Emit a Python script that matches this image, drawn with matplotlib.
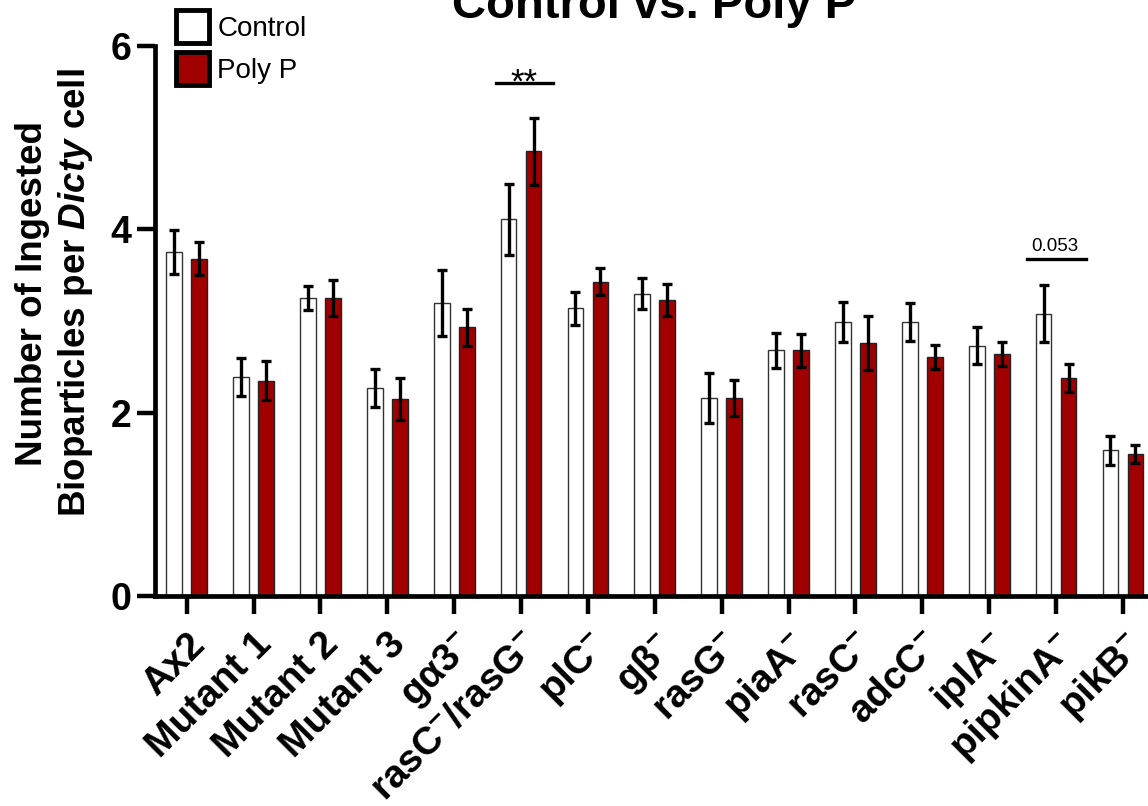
import matplotlib
matplotlib.use('Agg')
import matplotlib.pyplot as plt
from matplotlib.patches import Patch
import numpy as np

plt.rcParams['font.family'] = ['Liberation Sans', 'DejaVu Sans']
plt.rcParams['mathtext.fontset'] = 'custom'
plt.rcParams['mathtext.rm'] = 'Liberation Sans:bold'
plt.rcParams['mathtext.bfit'] = 'Liberation Sans:italic:bold'

categories = ['Ax2', 'Mutant 1', 'Mutant 2', 'Mutant 3', 'gα3$^{-}$', 'rasC$^{-}$/rasG$^{-}$',
              'plC$^{-}$', 'gβ$^{-}$', 'rasG$^{-}$', 'piaA$^{-}$', 'rasC$^{-}$', 'adcC$^{-}$',
              'iplA$^{-}$', 'pipkinA$^{-}$', 'pikB$^{-}$']
control = [3.75, 2.39, 3.25, 2.27, 3.20, 4.11, 3.14, 3.30, 2.16, 2.68, 2.99, 2.99, 2.73, 3.08, 1.59]
control_err = [0.24, 0.21, 0.13, 0.21, 0.36, 0.39, 0.18, 0.17, 0.27, 0.19, 0.22, 0.21, 0.20, 0.31, 0.16]
polyp = [3.68, 2.35, 3.25, 2.15, 2.93, 4.85, 3.43, 3.23, 2.16, 2.68, 2.76, 2.61, 2.64, 2.38, 1.55]
polyp_err = [0.18, 0.21, 0.20, 0.23, 0.20, 0.37, 0.15, 0.17, 0.20, 0.18, 0.29, 0.13, 0.13, 0.15, 0.10]

red = '#A00000'

fig = plt.figure(figsize=(11.48, 8.06), dpi=100)
ax = fig.add_axes([155/1148, 210/806, 1 - 155/1148, 550/806])

x = np.arange(len(categories))
off = 0.187
w = 0.235
ax.bar(x - off, control, w, color='white', edgecolor='#333333', linewidth=1, zorder=2)
ax.bar(x + off, polyp, w, color=red, edgecolor='#222222', linewidth=1, zorder=2)
ax.errorbar(x - off, control, yerr=control_err, fmt='none', ecolor='black',
            elinewidth=2.4, capsize=3.5, capthick=2.4, zorder=3)
ax.errorbar(x + off, polyp, yerr=polyp_err, fmt='none', ecolor='black',
            elinewidth=2.4, capsize=3.5, capthick=2.4, zorder=3)

ax.set_xlim(-0.474, 14.374)
ax.set_ylim(0, 6)
ax.set_yticks([0, 2, 4, 6])
ax.set_xticks(x)
ax.set_xticklabels(categories, rotation=45, ha='right', rotation_mode='anchor',
                   fontsize=28, fontweight='bold')
ax.tick_params(axis='y', labelsize=27, width=3.2, length=13, pad=4)
ax.tick_params(axis='x', width=3.2, length=13, pad=9)
for lab in ax.get_yticklabels():
    lab.set_fontweight('bold')
for s in ['top', 'right']:
    ax.spines[s].set_visible(False)
for s in ['left', 'bottom']:
    ax.spines[s].set_linewidth(3.4)

# significance marks
ax.plot([5 - 0.37, 5 + 0.48], [5.60, 5.60], color='black', lw=2.4, clip_on=False)
ax.text(5.05, 5.49, '**', ha='center', va='baseline', fontsize=25)
ax.plot([13 - 0.44, 13 + 0.44], [3.68, 3.68], color='black', lw=2.4, clip_on=False)
ax.text(12.98, 3.72, '0.053', ha='center', va='bottom', fontsize=13.5)

fig.text(55/1148, 1 - 293/806, 'Number of Ingested\nBioparticles per $\\mathbfit{Dicty}$ cell',
         rotation=90, ha='center', va='center', multialignment='center',
         fontsize=26.5, fontweight='bold')
fig.text(654/1148, 1 - 18/806, 'Control vs. Poly P', ha='center', va='baseline',
         fontsize=34, fontweight='bold')

handles = [Patch(facecolor='white', edgecolor='black', linewidth=3.5),
           Patch(facecolor=red, edgecolor='black', linewidth=3.5)]
fig.legend(handles, ['Control', 'Poly P'], loc='upper left',
           bbox_to_anchor=(176/1148, 1 - 10/806), frameon=False, fontsize=20,
           handlelength=1.19, handleheight=1.454, labelspacing=0.32,
           handletextpad=0.3, borderpad=0, borderaxespad=0)

fig.savefig('out.png', dpi=100)
